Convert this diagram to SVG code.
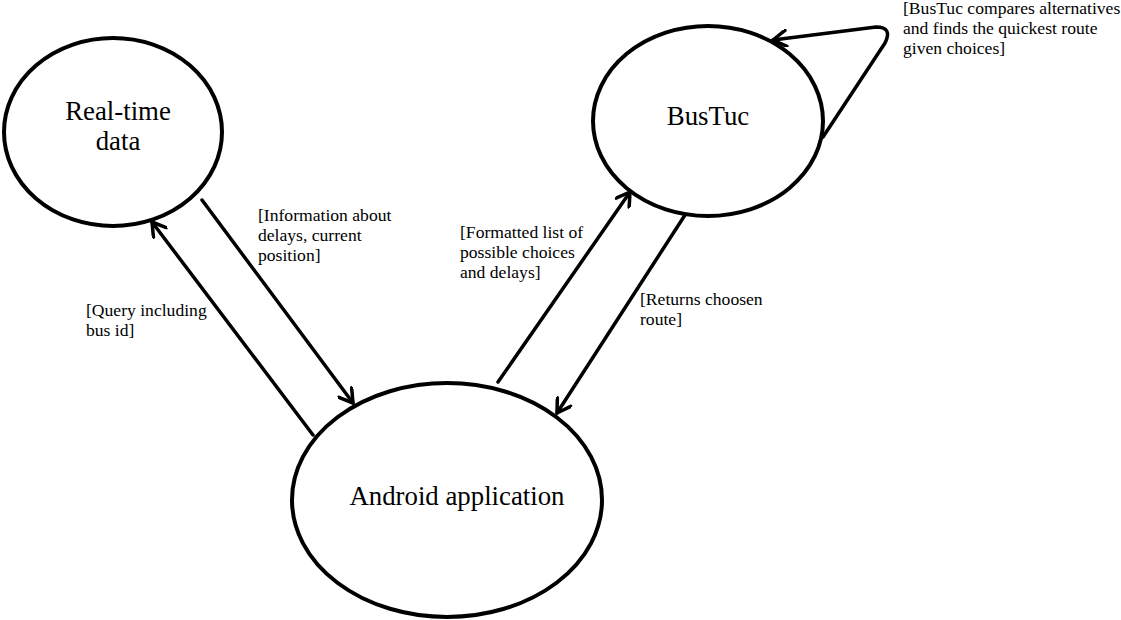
<svg xmlns="http://www.w3.org/2000/svg" width="1121" height="620" viewBox="0 0 1121 620">
<style>
.node{fill:#fff;stroke:#000;stroke-width:4}
.title{font-family:"Liberation Serif","Times New Roman",serif;font-size:26.8px;fill:#000;text-anchor:middle}
.lbl{font-family:"Liberation Serif","Times New Roman",serif;font-size:17.6px;fill:#000}
.edge{fill:none;stroke:#000;stroke-width:3.5;stroke-linecap:round;stroke-linejoin:round}
</style>
<defs>
<marker id="arr" viewBox="0 0 18 18" refX="16" refY="9" markerWidth="18" markerHeight="18" markerUnits="userSpaceOnUse" orient="auto">
<path d="M3,1 L16,9 L3,17" fill="none" stroke="#000" stroke-width="3.5" stroke-linecap="round" stroke-linejoin="round"/>
</marker>
</defs>
<rect width="1121" height="620" fill="#fff"/>
<g id="connectors">
<path class="edge" d="M313,435 L152,222" marker-end="url(#arr)"/>
<path class="edge" d="M202,200 L353,403" marker-end="url(#arr)"/>
<path class="edge" d="M498,382 L630,192" marker-end="url(#arr)"/>
<path class="edge" d="M685,215 L557,413" marker-end="url(#arr)"/>
<path class="edge" d="M823,137 L885,43 Q893,27 876,27 L773,40" marker-end="url(#arr)"/>
</g>
<g id="labels">
<text class="lbl" x="258" y="221">[Information about</text>
<text class="lbl" x="258" y="241">delays, current</text>
<text class="lbl" x="258" y="261">position]</text>
<text class="lbl" x="86" y="316">[Query including</text>
<text class="lbl" x="86" y="336">bus id]</text>
<text class="lbl" x="460" y="238">[Formatted list of</text>
<text class="lbl" x="460" y="258">possible choices</text>
<text class="lbl" x="460" y="278">and delays]</text>
<text class="lbl" x="640" y="305">[Returns choosen</text>
<text class="lbl" x="640" y="325">route]</text>
<text class="lbl" x="903" y="14">[BusTuc compares alternatives</text>
<text class="lbl" x="903" y="34">and finds the quickest route</text>
<text class="lbl" x="903" y="54">given choices]</text>
</g>
<g id="realtime">
<ellipse class="node" cx="113" cy="132" rx="109" ry="94"/>
<text class="title" x="118" y="120">Real-time</text>
<text class="title" x="118" y="150">data</text>
</g>
<g id="bustuc">
<ellipse class="node" cx="708" cy="121" rx="115" ry="95"/>
<text class="title" x="708" y="125">BusTuc</text>
</g>
<g id="android">
<ellipse class="node" cx="447" cy="500" rx="155" ry="117"/>
<text class="title" x="457" y="505">Android application</text>
</g>
</svg>
